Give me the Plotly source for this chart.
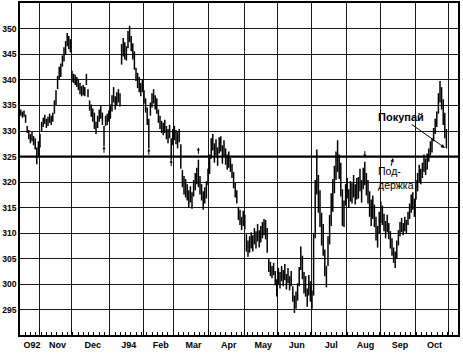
import plotly.graph_objects as go

# Daily highs / lows (trading days, Oct 92 .. Oct)
highs = [
    334.2, 333.8, 334.0, 333.2, 331.0, 330.2, 329.4, 329.8, 329.0, 328.6, 326.8, 328.0,
    329.4, 331.8, 332.6, 333.2, 332.4, 332.8, 333.4, 333.0, 333.6, 336.0, 338.0, 340.8,
    342.6, 343.2, 344.8, 346.4, 347.6, 349.2, 348.6, 348.0,
    341.8, 341.2, 341.0, 340.6, 340.2, 339.4, 338.8, 339.0, 338.6, 341.2, 338.2, 336.0,
    335.2, 334.4, 333.6, 331.8, 333.0, 334.2, 335.0, 333.6, 331.0, 333.0, 333.4, 334.0,
    335.2, 337.0, 338.6, 336.8, 337.6, 338.2, 337.4, 347.0, 348.2, 347.4, 346.6, 349.6,
    350.6, 348.6, 347.2, 345.6, 342.4, 341.4, 340.6, 339.4, 340.2,
    338.0, 336.4, 334.6, 332.4, 335.6, 337.4, 338.2, 337.0, 336.4, 334.2, 333.0, 332.0,
    331.6, 332.2, 331.0, 330.4, 331.2, 328.6, 330.4,
    331.0, 330.2, 329.8, 330.4, 327.4, 322.4, 321.2, 320.6, 319.6, 318.4, 319.2, 318.0,
    320.4, 321.8, 322.8, 324.4, 321.2, 319.6, 318.2, 319.0, 320.2, 322.6, 325.4,
    328.6, 329.4, 327.6, 328.4, 326.8, 328.8, 329.0, 327.2, 328.2, 326.6, 325.4, 326.0,
    324.8, 323.6, 322.0, 320.0, 318.4, 315.2, 314.6, 313.2, 314.4, 313.6,
    309.8, 308.6, 309.4, 310.2, 309.6, 311.0, 310.4, 311.8, 310.6, 311.4, 312.2, 312.8,
    312.6, 311.0, 305.0, 304.4, 303.6, 304.2, 302.6, 301.0,
    303.2, 302.4, 303.6, 302.8, 304.0, 302.0, 303.2, 301.6, 302.6, 299.6, 297.8, 298.6,
    300.2, 303.4, 307.4, 305.6, 302.4, 301.6, 299.2, 301.8, 300.6, 298.8,
    310.0, 320.4, 326.4, 321.4, 318.4, 314.0, 311.8, 306.8, 303.6, 309.4, 313.6, 317.8,
    320.6, 323.2, 326.0, 328.2, 325.4, 323.8, 318.6, 316.4,
    319.6, 320.8, 318.6, 320.2, 319.8, 321.4, 319.6, 320.8, 321.0, 322.6, 320.4, 322.8,
    324.0, 321.8, 320.4, 318.2, 316.6, 317.4, 315.6, 313.2, 311.4, 314.2, 316.2,
    315.4, 313.8, 312.4, 313.6, 312.0, 310.4, 309.0, 307.2, 306.4, 308.6, 310.6, 312.2,
    313.0, 312.0, 313.2, 312.6, 314.2, 315.8, 317.6, 318.0, 316.8,
    320.4, 321.8, 323.4, 322.6, 323.8, 325.4, 324.6, 325.6, 326.6, 328.0, 328.6, 330.6,
    332.4, 333.8, 337.4, 339.8, 338.6, 336.2, 333.6, 330.4,
]
lows = [
    333.0, 332.6, 332.8, 331.6, 329.6, 328.4, 327.6, 328.0, 327.2, 326.4, 323.5, 325.0,
    326.8, 330.0, 330.8, 331.4, 330.6, 331.0, 331.6, 331.2, 331.8, 333.4, 335.0, 338.2,
    340.0, 340.6, 342.6, 343.6, 345.0, 346.6, 346.0, 345.4,
    339.6, 339.4, 339.0, 338.6, 338.0, 337.2, 336.8, 337.0, 336.8, 339.0, 336.6, 334.0,
    332.8, 331.8, 330.4, 329.4, 330.6, 331.8, 332.4, 331.2, 327.0, 331.0, 331.2, 331.8,
    332.4, 333.8, 335.6, 334.2, 335.0, 335.6, 334.8, 343.0, 344.6, 344.0, 343.8, 346.2,
    347.4, 345.6, 344.0, 342.0, 339.8, 338.4, 337.6, 336.8, 337.6,
    335.4, 333.6, 331.2, 326.6, 333.0, 334.6, 335.4, 334.2, 333.4, 331.6, 330.4, 329.6,
    329.2, 329.6, 328.4, 327.6, 328.6, 324.4, 327.2,
    328.2, 327.4, 326.6, 327.8, 322.6, 319.0, 317.6, 317.0, 316.4, 315.0, 316.0, 314.8,
    317.2, 318.4, 319.6, 319.0, 317.6, 316.4, 314.6, 315.8, 316.8, 319.4, 321.6,
    324.6, 326.2, 323.8, 325.2, 323.2, 325.6, 326.0, 323.6, 325.0, 323.4, 322.4, 322.8,
    322.0, 320.8, 318.8, 317.0, 315.8, 312.6, 311.6, 310.6, 311.4, 310.8,
    306.4, 305.4, 306.2, 307.0, 306.4, 307.8, 307.0, 308.4, 307.2, 308.2, 309.0, 309.6,
    308.8, 306.2, 302.4, 301.6, 301.2, 301.8, 299.8, 297.6,
    300.0, 299.2, 300.6, 299.6, 300.8, 299.0, 300.2, 298.8, 299.6, 296.6, 294.4, 295.2,
    296.8, 299.6, 302.8, 301.0, 298.2, 297.6, 295.6, 297.8, 296.6, 295.2,
    297.8, 309.0, 317.6, 314.0, 311.2, 307.6, 305.6, 301.6, 299.4, 303.6, 307.8, 311.4,
    314.2, 317.8, 320.4, 322.0, 320.6, 317.2, 311.4, 311.2,
    315.4, 316.8, 315.0, 316.2, 315.8, 317.0, 315.6, 316.6, 316.8, 318.2, 316.0, 318.6,
    319.4, 317.4, 315.8, 313.2, 311.4, 312.8, 311.2, 308.6, 307.2, 310.0, 312.0,
    311.6, 310.4, 309.0, 310.2, 308.8, 307.0, 305.6, 304.2, 303.2, 305.0, 307.6, 309.4,
    310.2, 309.6, 310.4, 310.0, 311.6, 312.8, 314.0, 314.6, 313.2,
    316.6, 318.2, 320.0, 319.6, 320.8, 322.0, 321.4, 322.4, 324.0, 325.2, 325.8, 328.0,
    329.4, 330.8, 333.4, 335.6, 334.2, 331.2, 328.6, 326.6,
]

month_labels = ["O92", "Nov", "Dec", "J94", "Feb", "Mar", "Apr", "May",
                "Jun", "Jul", "Aug", "Sep", "Oct"]
# trading-day index at which each month starts (last entry = start of next month)
month_starts = [0, 12, 32, 56, 77, 96, 118, 140, 161, 182, 204, 225, 247, 268]
price_ticks = [295, 300, 305, 310, 315, 320, 325, 330, 335, 340, 345, 350]
support_level = 325
x_end = 273.75
y_range = [290.08, 355.06]

# signal arrows: (day index, price, direction)
signals = [(52, 327.0, "up"), (80, 326.6, "up"), (94, 324.4, "up"),
           (111, 326.8, "up"), (215, 324.8, "down")]

FONT = "Liberation Sans, Arial, sans-serif"

xs, ys = [], []
for i, (h, l) in enumerate(zip(highs, lows)):
    x = i + 0.5
    xs += [x, x, None]
    ys += [l, h, None]

fig = go.Figure()
fig.add_trace(go.Scatter(x=xs, y=ys, mode="lines",
                         line=dict(color="black", width=1.5),
                         hoverinfo="skip", showlegend=False))
# invisible trace to anchor the grid axis
fig.add_trace(go.Scatter(x=[0], y=[300], xaxis="x2", mode="markers",
                         marker=dict(opacity=0), hoverinfo="skip", showlegend=False))

label_pos = [(month_starts[k] + month_starts[k + 1]) / 2 + 1.5 for k in range(len(month_labels))]

fig.update_layout(
    width=463, height=355,
    margin=dict(l=20, r=5, t=1, b=20),
    paper_bgcolor="white", plot_bgcolor="white",
    font=dict(family=FONT, color="black"),
    xaxis=dict(range=[0, x_end], tickmode="array", tickvals=label_pos,
               ticktext=month_labels, ticks="", showgrid=False, zeroline=False,
               showline=True, linecolor="black", linewidth=1.5, mirror=True,
               tickfont=dict(size=9, family=FONT, weight="bold")),
    xaxis2=dict(range=[0, x_end], overlaying="x", anchor="y", side="bottom",
                tickmode="array", tickvals=month_starts[1:], showgrid=True,
                gridcolor="#1a1a1a", gridwidth=1.2, ticks="inside", ticklen=6,
                tickcolor="black", showticklabels=False, zeroline=False,
                minor=dict(dtick=3.3, tick0=0, ticks="inside", ticklen=3,
                           tickcolor="black", showgrid=False)),
    yaxis=dict(range=y_range, tickmode="array", tickvals=price_ticks,
               showgrid=True, gridcolor="#1a1a1a", gridwidth=1.2, ticks="",
               zeroline=False, showline=True, linecolor="black", linewidth=1.5,
               mirror=True, tickfont=dict(size=8.5, family=FONT, weight="bold")),
    showlegend=False,
)

fig.add_shape(type="line", xref="x domain", yref="y", x0=0, x1=1,
              y0=support_level, y1=support_level,
              line=dict(color="black", width=2.2))

fig.add_annotation(x=265.6, y=326.7, xref="x", yref="y", text="<b>Покупай</b>",
                   showarrow=True, ax=-44, ay=-31, arrowhead=2, arrowsize=0.8,
                   arrowwidth=1, arrowcolor="black",
                   font=dict(size=11, family=FONT, color="black"))
fig.add_annotation(x=222.6, y=320.9, xref="x", yref="y", text="Под-<br>держка",
                   showarrow=False, xanchor="left", yanchor="middle", align="left",
                   font=dict(size=10.5, family=FONT, color="black"))
fig.add_annotation(x=233.1, y=324.7, xref="x", yref="y", text="",
                   showarrow=True, ax=-2, ay=9, arrowhead=2, arrowsize=0.7,
                   arrowwidth=1, arrowcolor="black")

for d, p, direction in signals:
    fig.add_annotation(x=d + 0.5, y=p, xref="x", yref="y", text="",
                       showarrow=True, ax=0, ay=(8 if direction == "up" else -8),
                       arrowhead=2, arrowsize=0.6, arrowwidth=1, arrowcolor="black")

fig.write_html("out.html")
